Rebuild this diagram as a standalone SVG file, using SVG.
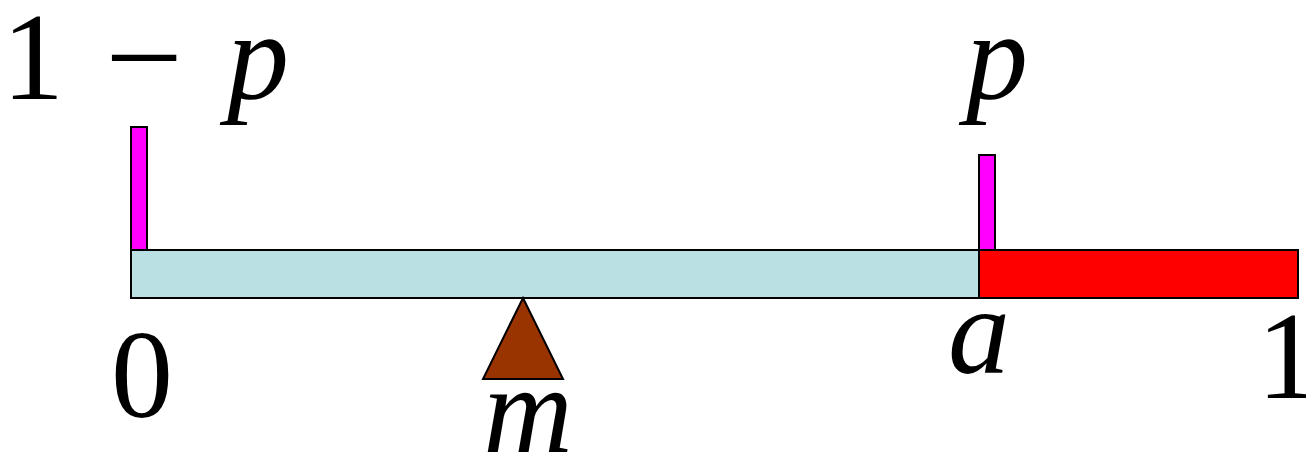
<svg xmlns="http://www.w3.org/2000/svg" width="1306" height="455" viewBox="0 0 1306 455">
<defs>
<style>
text{font-family:"Liberation Serif","Times New Roman","DejaVu Serif",serif;font-size:124px;fill:#000;text-anchor:middle}
.i{font-style:italic}
.s{stroke:#000;stroke-width:2}
</style>
</defs>
<rect width="1306" height="455" fill="#fff"/>
<g id="bar-left">
<rect class="s" x="131" y="250" width="848" height="48" fill="#BBE0E3"/>
</g>
<g id="bar-right">
<rect class="s" x="979" y="250" width="319" height="48" fill="#FF0000"/>
</g>
<g id="weight-left">
<rect class="s" x="131" y="127" width="16" height="123" fill="#FF00FF"/>
</g>
<g id="weight-right">
<rect class="s" x="979" y="155" width="16" height="95" fill="#FF00FF"/>
</g>
<g id="fulcrum">
<polygon class="s" points="523,298 563,379 483,379" fill="#993300"/>
</g>
<g id="labels">
<text x="33" y="99">1</text>
<text x="144" y="99" textLength="78" lengthAdjust="spacingAndGlyphs">−</text>
<text class="i" x="258" y="98">p</text>
<text class="i" x="997" y="98">p</text>
<text x="142" y="417">0</text>
<text class="i" x="979" y="373">a</text>
<text x="1288" y="398">1</text>
<text class="i" x="528" y="452">m</text>
</g>
<g id="connectors"></g>
</svg>
